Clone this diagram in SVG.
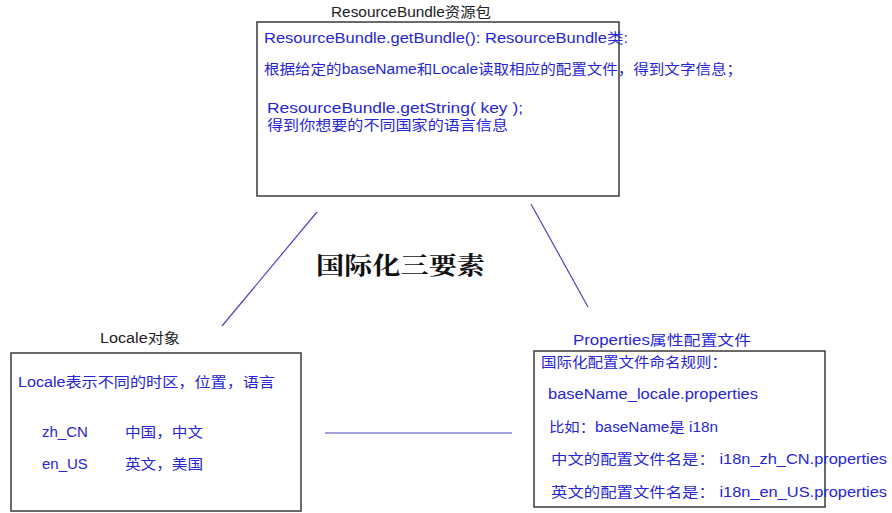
<svg xmlns="http://www.w3.org/2000/svg" width="892" height="513" viewBox="0 0 892 513">
<style>
.box{fill:#fff;stroke:#3a3a3a;stroke-width:1.5}
.t{font-family:"Liberation Sans","Noto Sans CJK SC",sans-serif;font-size:14px;fill:#2626d6}
.k{fill:#222}
.m{font-family:"Liberation Sans",sans-serif;font-size:15px;fill:#2626d6}
.c{stroke:#4a44c0;stroke-width:1.2;fill:none}
.big{font-family:"Noto Serif CJK SC","Noto Sans CJK SC",serif;font-size:24px;font-weight:bold;fill:#111}
</style>
<rect width="892" height="513" fill="#fff"/>
<g id="connectors">
<line class="c" x1="317" y1="212" x2="222" y2="326"/>
<line class="c" x1="531" y1="204" x2="588" y2="307"/>
<line class="c" x1="325" y1="433" x2="512" y2="433"/>
</g>
<g id="center-label">
<text class="big" x="316" y="274" textLength="169" lengthAdjust="spacingAndGlyphs">国际化三要素</text>
</g>
<g id="resourcebundle">
<text class="t k" x="331" y="17" textLength="160" lengthAdjust="spacingAndGlyphs">ResourceBundle资源包</text>
<rect class="box" x="257" y="22" width="362" height="174"/>
<text class="t" x="264" y="43" textLength="364" lengthAdjust="spacingAndGlyphs">ResourceBundle.getBundle(): ResourceBundle类:</text>
<text class="t" x="264" y="74" textLength="478" lengthAdjust="spacingAndGlyphs">根据给定的baseName和Locale读取相应的配置文件，得到文字信息；</text>
<text class="t" x="267" y="113" textLength="256" lengthAdjust="spacingAndGlyphs">ResourceBundle.getString( key );</text>
<text class="t" x="267" y="130" textLength="241" lengthAdjust="spacingAndGlyphs">得到你想要的不同国家的语言信息</text>
</g>
<g id="locale">
<text class="t k" x="100" y="343" textLength="80" lengthAdjust="spacingAndGlyphs">Locale对象</text>
<rect class="box" x="11" y="353" width="290" height="158"/>
<text class="t" x="18" y="387" textLength="257" lengthAdjust="spacingAndGlyphs">Locale表示不同的时区，位置，语言</text>
<text class="m" x="42" y="437">zh_CN</text>
<text class="t" x="125" y="437" textLength="78" lengthAdjust="spacingAndGlyphs">中国，中文</text>
<text class="m" x="42" y="469">en_US</text>
<text class="t" x="125" y="469" textLength="78" lengthAdjust="spacingAndGlyphs">英文，美国</text>
</g>
<g id="properties">
<text class="t" x="573" y="345" textLength="178" lengthAdjust="spacingAndGlyphs">Properties属性配置文件</text>
<rect class="box" x="534" y="351" width="291" height="156"/>
<text class="t" x="541" y="367" textLength="186" lengthAdjust="spacingAndGlyphs">国际化配置文件命名规则：</text>
<text class="t" x="548" y="399" textLength="210" lengthAdjust="spacingAndGlyphs">baseName_locale.properties</text>
<text class="t" x="549" y="432" textLength="169" lengthAdjust="spacingAndGlyphs">比如：baseName是 i18n</text>
<text class="t" x="551" y="464" textLength="336" lengthAdjust="spacingAndGlyphs">中文的配置文件名是： i18n_zh_CN.properties</text>
<text class="t" x="551" y="497" textLength="336" lengthAdjust="spacingAndGlyphs">英文的配置文件名是： i18n_en_US.properties</text>
</g>
</svg>
